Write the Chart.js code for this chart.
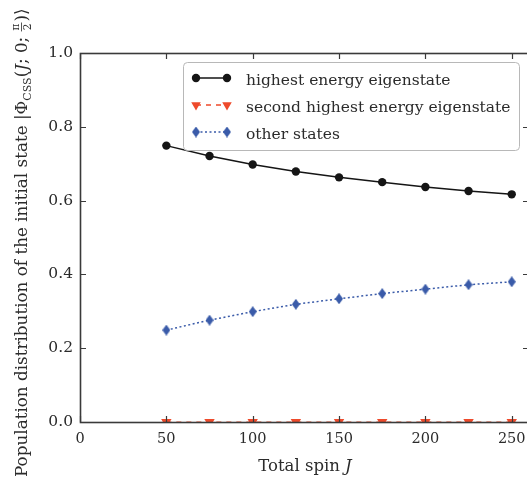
<!DOCTYPE html>
<html lang="en">
<head>
  <meta charset="UTF-8" />
  <title>Population distribution vs total spin</title>
  <script src="https://cdn.jsdelivr.net/npm/chart.js"></script>
  <style>
    html, body { margin: 0; padding: 0; background: #fff; overflow: hidden; }
    /* a bit wider than the window so the right spine falls just outside, like the reference */
    #wrap { position: relative; width: 540px; height: 479px; }
  </style>
</head>
<body>
  <div id="wrap"><canvas id="popChart"></canvas></div>

  <script>
    // data
    const spinJ = [50, 75, 100, 125, 150, 175, 200, 225, 250];
    const highestState = [0.749, 0.721, 0.698, 0.679, 0.663, 0.650, 0.637, 0.626, 0.617];
    const secondState = [0, 0, 0, 0, 0, 0, 0, 0, 0];
    const otherStates = [0.249, 0.276, 0.299, 0.319, 0.334, 0.348, 0.360, 0.372, 0.380];
    const seriesNames = ['highest energy eigenstate', 'second highest energy eigenstate', 'other states'];
    const xTicks = [0, 50, 100, 150, 200, 250];
    const yTicks = [0.0, 0.2, 0.4, 0.6, 0.8, 1.0];
    const xTitle = ['Total spin ', 'J'];
    const yTitle = 'Population distribution of the initial state';

    const SERIF = '"DejaVu Serif", "Liberation Serif", serif';
    const INK = '#2b2b2b';
    const BLACK = '#151515';
    const RED = '#ee4a2b';
    const BLUE = '#3a5ba9';

    // matplotlib style thin diamond
    function thinDiamond(color, w, h) {
      const c = document.createElement('canvas');
      c.width = w; c.height = h;
      const g = c.getContext('2d');
      g.fillStyle = color;
      g.beginPath();
      g.moveTo(w / 2, 0); g.lineTo(w, h / 2); g.lineTo(w / 2, h); g.lineTo(0, h / 2);
      g.closePath();
      g.fill();
      return c;
    }
    const diamond = thinDiamond(BLUE, 8, 11);

    function pts(ys) {
      return spinJ.map((x, i) => ({ x: x, y: ys[i] }));
    }

    // inward ticks on all four sides + the frame
    const frame = {
      id: 'frame',
      afterDatasetsDraw(chart) {
        const { ctx, chartArea: a, scales } = chart;
        const len = 6;
        ctx.save();
        ctx.strokeStyle = '#3a3a3a';
        ctx.lineWidth = 1.2;
        ctx.beginPath();
        xTicks.forEach(v => {
          const px = Math.round(scales.x.getPixelForValue(v)) + 0.5;
          ctx.moveTo(px, a.bottom); ctx.lineTo(px, a.bottom - len);
          ctx.moveTo(px, a.top); ctx.lineTo(px, a.top + len);
        });
        yTicks.forEach(v => {
          const py = Math.round(scales.y.getPixelForValue(v)) + 0.5;
          ctx.moveTo(a.left, py); ctx.lineTo(a.left + len, py);
          ctx.moveTo(a.right, py); ctx.lineTo(a.right - len, py);
        });
        ctx.stroke();
        ctx.lineWidth = 1.6;
        ctx.strokeRect(Math.round(a.left) + 0.5, Math.round(a.top) + 0.5,
          Math.round(a.right - a.left), Math.round(a.bottom - a.top));
        ctx.restore();
      }
    };

    function marker(ctx, kind, x, y) {
      if (kind === 'circle') {
        ctx.fillStyle = BLACK;
        ctx.beginPath(); ctx.arc(x, y, 4.2, 0, Math.PI * 2); ctx.fill();
      } else if (kind === 'tri') {
        const r = 5.5;
        ctx.fillStyle = RED;
        ctx.beginPath();
        ctx.moveTo(x, y + r);
        ctx.lineTo(x - r * 0.866, y - r / 2);
        ctx.lineTo(x + r * 0.866, y - r / 2);
        ctx.closePath(); ctx.fill();
      } else {
        ctx.drawImage(diamond, x - diamond.width / 2, y - diamond.height / 2);
      }
    }

    // legend box and the two axis titles
    const annotations = {
      id: 'annotations',
      afterDraw(chart) {
        const ctx = chart.ctx;
        ctx.save();

        // legend
        ctx.fillStyle = 'rgba(255,255,255,0.92)';
        ctx.strokeStyle = '#b8b8b8';
        ctx.lineWidth = 1;
        ctx.beginPath();
        ctx.roundRect(183.5, 62.5, 336, 88, 4);
        ctx.fill(); ctx.stroke();

        const rows = [78, 105, 132];
        const kinds = ['circle', 'tri', 'diamond'];
        const colors = [BLACK, RED, BLUE];
        const dashes = [[], [5, 5], [2, 2.5]];
        rows.forEach((y, i) => {
          ctx.strokeStyle = colors[i];
          ctx.lineWidth = 1.5;
          ctx.setLineDash(dashes[i]);
          ctx.beginPath(); ctx.moveTo(196, y); ctx.lineTo(227, y); ctx.stroke();
          ctx.setLineDash([]);
          marker(ctx, kinds[i], 196, y);
          marker(ctx, kinds[i], 227, y);
          ctx.fillStyle = INK;
          ctx.font = '15.5px ' + SERIF;
          ctx.textBaseline = 'alphabetic';
          ctx.textAlign = 'left';
          ctx.fillText(seriesNames[i], 246, y + 6.5);
        });

        // x title
        ctx.fillStyle = INK;
        ctx.font = '16.5px ' + SERIF;
        const w1 = ctx.measureText(xTitle[0]).width;
        ctx.font = 'italic 16.5px ' + SERIF;
        const w2 = ctx.measureText(xTitle[1]).width;
        let x = 305 - (w1 + w2) / 2;
        ctx.font = '16.5px ' + SERIF;
        ctx.fillText(xTitle[0], x, 471);
        ctx.font = 'italic 16.5px ' + SERIF;
        ctx.fillText(xTitle[1], x + w1, 471);

        // y title, rotated, with the ket written out
        ctx.translate(27, 477);
        ctx.rotate(-Math.PI / 2);
        let cx = 0;
        const put = (txt, font, dy) => {
          ctx.font = font;
          ctx.fillText(txt, cx, dy || 0);
          cx += ctx.measureText(txt).width;
        };
        const base = '16.8px ' + SERIF;
        put(yTitle + ' |\u03A6', base);
        put('CSS', '11px ' + SERIF, 3.5);
        put('(', base);
        put('J', 'italic ' + base);
        put('; 0; ', base);
        ctx.font = '10.5px ' + SERIF;
        const fw = Math.max(ctx.measureText('\u03C0').width, ctx.measureText('2').width) + 2;
        ctx.fillText('\u03C0', cx + (fw - ctx.measureText('\u03C0').width) / 2, -8);
        ctx.fillText('2', cx + (fw - ctx.measureText('2').width) / 2, 3.5);
        ctx.fillRect(cx, -5.8, fw, 0.8);
        cx += fw + 1;
        put(')\u27E9', base);

        ctx.restore();
      }
    };

    new Chart(document.getElementById('popChart'), {
      type: 'line',
      data: {
        datasets: [
          {
            label: seriesNames[0],
            data: pts(highestState),
            borderColor: BLACK,
            backgroundColor: BLACK,
            borderWidth: 1.5,
            pointStyle: 'circle',
            pointRadius: 4.2,
            pointBorderWidth: 0,
            tension: 0
          },
          {
            label: seriesNames[1],
            data: pts(secondState),
            borderColor: RED,
            backgroundColor: RED,
            borderWidth: 1,
            borderDash: [5, 5],
            pointStyle: 'triangle',
            rotation: 180,
            pointRadius: 6,
            pointBorderWidth: 0,
            clip: 0
          },
          {
            label: seriesNames[2],
            data: pts(otherStates),
            borderColor: BLUE,
            backgroundColor: BLUE,
            borderWidth: 1.5,
            borderDash: [2, 2.5],
            pointStyle: diamond,
            pointRadius: 5,
            tension: 0
          }
        ]
      },
      options: {
        responsive: true,
        maintainAspectRatio: false,
        animation: false,
        layout: { padding: { top: 53, right: 11, left: 0, bottom: 0 } },
        plugins: {
          legend: { display: false },
          tooltip: { enabled: false }
        },
        scales: {
          x: {
            type: 'linear',
            min: 0,
            max: 260,
            grid: { display: false, drawTicks: false },
            border: { display: false },
            ticks: { padding: 9, color: INK, font: { family: SERIF, size: 14.5 } },
            afterBuildTicks: s => { s.ticks = xTicks.map(v => ({ value: v })); },
            afterFit: s => { s.height = 57; }
          },
          y: {
            min: 0,
            max: 1,
            grid: { display: false, drawTicks: false },
            border: { display: false },
            ticks: {
              padding: 7,
              color: INK,
              font: { family: SERIF, size: 15.5 },
              callback: v => Number(v).toFixed(1)
            },
            afterBuildTicks: s => { s.ticks = yTicks.map(v => ({ value: v })); },
            afterFit: s => { s.width = 80; }
          }
        }
      },
      plugins: [frame, annotations]
    });
  </script>
</body>
</html>
